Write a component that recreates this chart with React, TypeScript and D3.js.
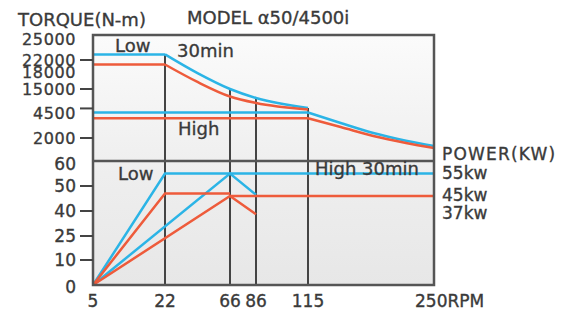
import React from "react";
import * as d3 from "d3";

// rpm ticks on the (non-uniform) speed axis
const rpmTicks = [5, 22, 66, 86, 115, 250];
// torque axis labels, and where the little tick marks sit
const torqueLabels = [25000, 22000, 18000, 15000, 4500, 2000];
const torqueTickMarks = [22000, 15000, 6500, 2000];
// power axis labels
const powerLabels = [60, 50, 40, 25, 10, 0];
const powerTickMarks = [50, 40, 25, 10];

// torque curves [rpm, N-m]
const blueLowFlat = [[5, 22800], [22, 22800]];
const blueLowCurve = [[22, 22800], [44, 17800], [66, 15000], [86, 11060], [115, 6690]];
const redLowFlat = [[5, 20500], [22, 20500]];
const redLowCurve = [[22, 20500], [44, 16240], [66, 11720], [86, 8875], [115, 6030]];
const blueHighFlat = [[5, 4720], [115, 4720]];
const blueHighCurve = [[115, 4720], [150, 3500], [185, 2500], [220, 1730], [250, 1200]];
const redHighFlat = [[5, 3970], [115, 3970]];
const redHighCurve = [[115, 3970], [150, 3100], [185, 2200], [220, 1500], [250, 1000]];

// power lines [rpm, kW]
const blueLowPower = [[5, 0], [22, 55], [250, 55]];
const blueHighPower = [[5, 0], [66, 55], [86, 46.5]];
const redLowPower = [[5, 0], [22, 47], [66, 47]];
const redHighPower = [[5, 0], [66, 46], [86, 38]];
const redHighRated = [[66, 46], [250, 46]];

const kwLabels = ["55kw", "45kw", "37kw"];
const kwLabelValues = [55, 46, 38];

// rpm lines that go from the torque curve down to the axis
const markerRpm = [22, 66, 86, 115];

const BLUE = "#2bb4e6";
const RED = "#ee5b3b";
const INK = "#3a3a3a";
const FONT = "'DejaVu Sans', Arial, sans-serif";

export default function App() {
  const x = d3.scaleLinear().domain(rpmTicks).range([93, 165, 230, 256, 308, 434]);
  const torqueY = d3.scaleLinear()
    .domain([2000, 4500, 15000, 18000, 22000, 25000])
    .range([138, 113, 89, 72, 60, 39]);
  const powerY = d3.scaleLinear()
    .domain([0, 10, 25, 40, 50, 60])
    .range([285, 260, 236, 211, 186, 161]);

  const torqueLine = d3.line<number[]>().x(d => x(d[0])).y(d => torqueY(d[1]));
  const torqueCurve = d3.line<number[]>().x(d => x(d[0])).y(d => torqueY(d[1])).curve(d3.curveMonotoneX);
  const powerLine = d3.line<number[]>().x(d => x(d[0])).y(d => powerY(d[1]));

  const left = x(5), right = x(250);
  const top = 35, mid = powerY(60), bottom = powerY(0);

  const colored = [
    { d: torqueLine(blueLowFlat), c: BLUE },
    { d: torqueCurve(blueLowCurve), c: BLUE },
    { d: torqueLine(redLowFlat), c: RED },
    { d: torqueCurve(redLowCurve), c: RED },
    { d: torqueLine(blueHighFlat), c: BLUE },
    { d: torqueCurve(blueHighCurve), c: BLUE },
    { d: torqueLine(redHighFlat), c: RED },
    { d: torqueCurve(redHighCurve), c: RED },
    { d: powerLine(blueLowPower), c: BLUE },
    { d: powerLine(blueHighPower), c: BLUE },
    { d: powerLine(redLowPower), c: RED },
    { d: powerLine(redHighPower), c: RED },
    { d: powerLine(redHighRated), c: RED },
  ];

  const textStyle = { fontFamily: FONT, fill: INK, stroke: INK, strokeWidth: 0.35 };

  return (
    <svg width={582} height={312} style={{ position: "absolute", left: 0, top: 0, background: "#fff" }}>
      <defs>
        <linearGradient id="bg" x1="0" y1="0" x2="0" y2="1">
          <stop offset="0%" stopColor="#fbfbfb" />
          <stop offset="50%" stopColor="#efefef" />
          <stop offset="100%" stopColor="#e7e7e7" />
        </linearGradient>
      </defs>

      <rect x={left} y={top} width={right - left} height={bottom - top} fill="url(#bg)" />

      {/* vertical rpm markers */}
      {markerRpm.map(r => {
        const p = blueLowCurve.find(d => d[0] === r);
        return (
          <line key={r} x1={x(r)} x2={x(r)} y1={torqueY(p ? p[1] : 25000)} y2={bottom}
            stroke="#444" strokeWidth={2} />
        );
      })}

      {colored.map((l, i) => (
        <path key={i} d={l.d || ""} fill="none" stroke={l.c} strokeWidth={2.5} />
      ))}

      {/* frame */}
      <rect x={left} y={top} width={right - left} height={bottom - top} fill="none" stroke="#555" strokeWidth={2.5} />
      <line x1={left} x2={right} y1={mid} y2={mid} stroke="#555" strokeWidth={2.5} />

      {/* torque axis */}
      {torqueTickMarks.map(v => (
        <line key={v} x1={80} x2={left} y1={torqueY(v)} y2={torqueY(v)} stroke="#444" strokeWidth={2} />
      ))}
      {torqueLabels.map(v => (
        <text key={v} x={76} y={torqueY(v)} textAnchor="end" dominantBaseline="central" fontSize={16} letterSpacing={0.6} style={textStyle}>{v}</text>
      ))}

      {/* power axis */}
      {powerTickMarks.map(v => (
        <line key={v} x1={80} x2={left} y1={powerY(v)} y2={powerY(v)} stroke="#444" strokeWidth={2} />
      ))}
      {powerLabels.map(v => (
        <text key={v} x={76} y={powerY(v) + (v === 0 ? 2 : 0) + (v === 60 ? 3 : 0)} textAnchor="end" dominantBaseline="central" fontSize={17} style={textStyle}>{v}</text>
      ))}

      {/* rpm axis */}
      {rpmTicks.map((r, i) => (
        i === rpmTicks.length - 1
          ? <text key={r} x={x(r) - 19} y={301} dominantBaseline="central" fontSize={17} style={textStyle}>{r}RPM</text>
          : <text key={r} x={x(r)} y={301} textAnchor="middle" dominantBaseline="central" fontSize={17} style={textStyle}>{r}</text>
      ))}

      {/* titles */}
      <text x={18} y={19} dominantBaseline="central" fontSize={18} style={textStyle}>TORQUE(N-m)</text>
      <text x={187} y={17} dominantBaseline="central" fontSize={18} style={textStyle}>MODEL α50/4500i</text>
      <text x={442} y={154} dominantBaseline="central" fontSize={17} letterSpacing={1.2} style={textStyle}>POWER(KW)</text>
      {kwLabels.map((t, i) => (
        <text key={t} x={442} y={powerY(kwLabelValues[i]) - 1} dominantBaseline="central" fontSize={17} style={textStyle}>{t}</text>
      ))}

      {/* in-chart notes */}
      <text x={115} y={45} dominantBaseline="central" fontSize={18} style={textStyle}>Low</text>
      <text x={177} y={50} dominantBaseline="central" fontSize={18} style={textStyle}>30min</text>
      <text x={178} y={128} dominantBaseline="central" fontSize={18} style={textStyle}>High</text>
      <text x={118} y={173} dominantBaseline="central" fontSize={18} style={textStyle}>Low</text>
      <text x={315} y={168} dominantBaseline="central" fontSize={18} style={textStyle}>High 30min</text>
    </svg>
  );
}
